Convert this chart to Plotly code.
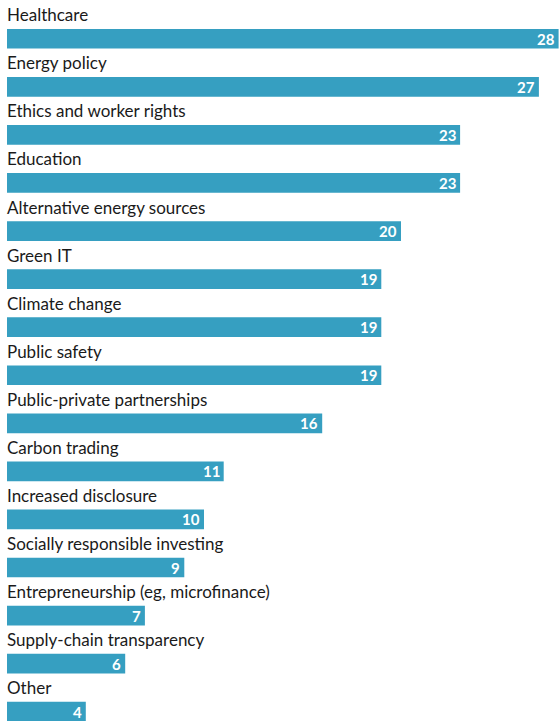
import plotly.graph_objects as go

categories = [
    "Healthcare", "Energy policy", "Ethics and worker rights", "Education",
    "Alternative energy sources", "Green IT", "Climate change", "Public safety",
    "Public-private partnerships", "Carbon trading", "Increased disclosure",
    "Socially responsible investing", "Entrepreneurship (eg, microfinance)",
    "Supply-chain transparency", "Other",
]
values = [28, 27, 23, 23, 20, 19, 19, 19, 16, 11, 10, 9, 7, 6, 4]

BAR_COLOR = "#369fc1"
FONT = "Lato"

positions = list(range(len(categories)))

fig = go.Figure(
    go.Bar(
        x=values,
        y=positions,
        orientation="h",
        width=0.41,
        marker=dict(color=BAR_COLOR, line=dict(width=0)),
        hoverinfo="skip",
    )
)

for pos, name, val in zip(positions, categories, values):
    # category name just above the bar
    fig.add_annotation(
        x=0, y=pos, text=name, showarrow=False,
        xanchor="left", yanchor="middle", yshift=24, xshift=-1,
        borderpad=0,
        font=dict(family=FONT, size=17, color="#1a1a1a"),
    )
    # value at the inner end of the bar
    fig.add_annotation(
        x=val, y=pos, text=str(val), showarrow=False,
        xanchor="right", yanchor="middle", xshift=-3, yshift=0,
        borderpad=0,
        font=dict(family=FONT, size=15, color="white", weight="bold"),
    )

fig.update_layout(
    width=560, height=721,
    margin=dict(l=7, r=0, t=0, b=0),
    paper_bgcolor="white", plot_bgcolor="white",
    showlegend=False,
    xaxis=dict(range=[0, 553 / 19.7], visible=False, fixedrange=True),
    yaxis=dict(range=[14.193, -0.806], visible=False, fixedrange=True),
)

fig.write_html("out.html")
